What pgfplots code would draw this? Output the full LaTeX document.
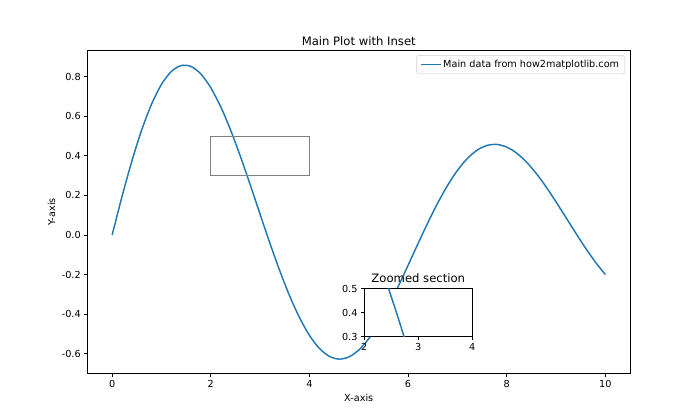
\documentclass[border=0pt]{standalone}
\usepackage{fontspec}
\setmainfont{DejaVu Sans}
\usepackage{pgfplots}
\usepackage{pgfplotstable}
\pgfplotsset{compat=1.18}
\definecolor{mplblue}{HTML}{1F77B4}
\definecolor{legframe}{HTML}{CCCCCC}
\pgfplotstableread{
x y
0.0 0.00000
0.2 0.19474
0.4 0.37415
0.6 0.53176
0.8 0.66220
1.0 0.76140
1.2 0.82664
1.4 0.85671
1.6 0.85178
1.8 0.81343
2.0 0.74447
2.2 0.64883
2.3 0.59249
2.4 0.53134
2.5 0.46609
2.6 0.39748
2.7 0.32625
2.8 0.25318
2.9 0.17902
3.0 0.10454
3.2 -0.04239
3.4 -0.18189
3.6 -0.30874
3.8 -0.41843
4.0 -0.50730
4.2 -0.57267
4.4 -0.61287
4.6 -0.62730
4.8 -0.61641
5.0 -0.58162
5.2 -0.52523
5.4 -0.45033
5.6 -0.36059
5.8 -0.26013
6.0 -0.15335
6.2 -0.04470
6.4 0.06146
6.6 0.16102
6.8 0.25033
7.0 0.32625
7.2 0.38632
7.4 0.42879
7.6 0.45266
7.8 0.45774
8.0 0.44455
8.2 0.41433
8.4 0.36894
8.6 0.31077
8.8 0.24261
9.0 0.16756
9.2 0.08883
9.4 0.00968
9.6 -0.06675
9.8 -0.13754
10.0 -0.20013
}\maindata
\pgfplotsset{
  mplaxis/.style={
    scale only axis,
    axis line style={black, line width=0.8pt},
    tick align=outside,
    tick pos=left,
    major tick length=3.5pt,
    tick style={black, line width=0.8pt},
    tick label style={font=\fontsize{10}{12}\selectfont},
    /pgf/number format/assume math mode=true,
    label style={font=\fontsize{10}{12}\selectfont},
    title style={font=\fontsize{12}{14}\selectfont, yshift=-4.5pt},
  }
}
\begin{document}
\begin{tikzpicture}
\path[use as bounding box] (0,0) rectangle (10in,6in);
\begin{axis}[
  mplaxis,
  at={(1.25in,0.66in)}, anchor=south west,
  width=7.75in, height=4.62in,
  xmin=-0.5, xmax=10.5, ymin=-0.7017, ymax=0.9332,
  xtick={0,2,4,6,8,10},
  ytick={-0.6,-0.4,-0.2,0,0.2,0.4,0.6,0.8},
  yticklabel style={/pgf/number format/.cd, fixed, fixed zerofill, precision=1},
  xlabel={X-axis}, ylabel={Y-axis},
  title={Main Plot with Inset},
  legend style={at={(rel axis cs:0.991,0.985)}, anchor=north east,
    draw=legframe, rounded corners=2pt, fill=white,
    font=\fontsize{10}{12}\selectfont, inner xsep=4pt, inner ysep=3pt},
  legend cell align=left,
  legend image code/.code={\draw[#1] (0pt,0pt) -- (20pt,0pt);},
]
\addplot[mplblue, line width=1.5pt, smooth, tension=0.5] table[x=x, y=y] {\maindata};
\addlegendentry{Main data from how2matplotlib.com}
\addplot[gray, line width=0.8pt, forget plot] coordinates {(2,0.3) (4,0.3) (4,0.5) (2,0.5) (2,0.3)};
\end{axis}
\begin{axis}[
  mplaxis,
  at={(5.204in,1.19in)}, anchor=south west,
  width=1.543in, height=0.686in,
  xmin=2, xmax=4, ymin=0.3, ymax=0.5,
  xtick={2,3,4},
  ytick={0.3,0.4,0.5},
  yticklabel style={/pgf/number format/.cd, fixed, fixed zerofill, precision=1},
  title={Zoomed section},
  title style={yshift=1pt},
  axis background/.style={fill=white},
]
\addplot[mplblue, line width=1.5pt, smooth, tension=0.5] table[x=x, y=y] {\maindata};
\end{axis}
\end{tikzpicture}
\end{document}
